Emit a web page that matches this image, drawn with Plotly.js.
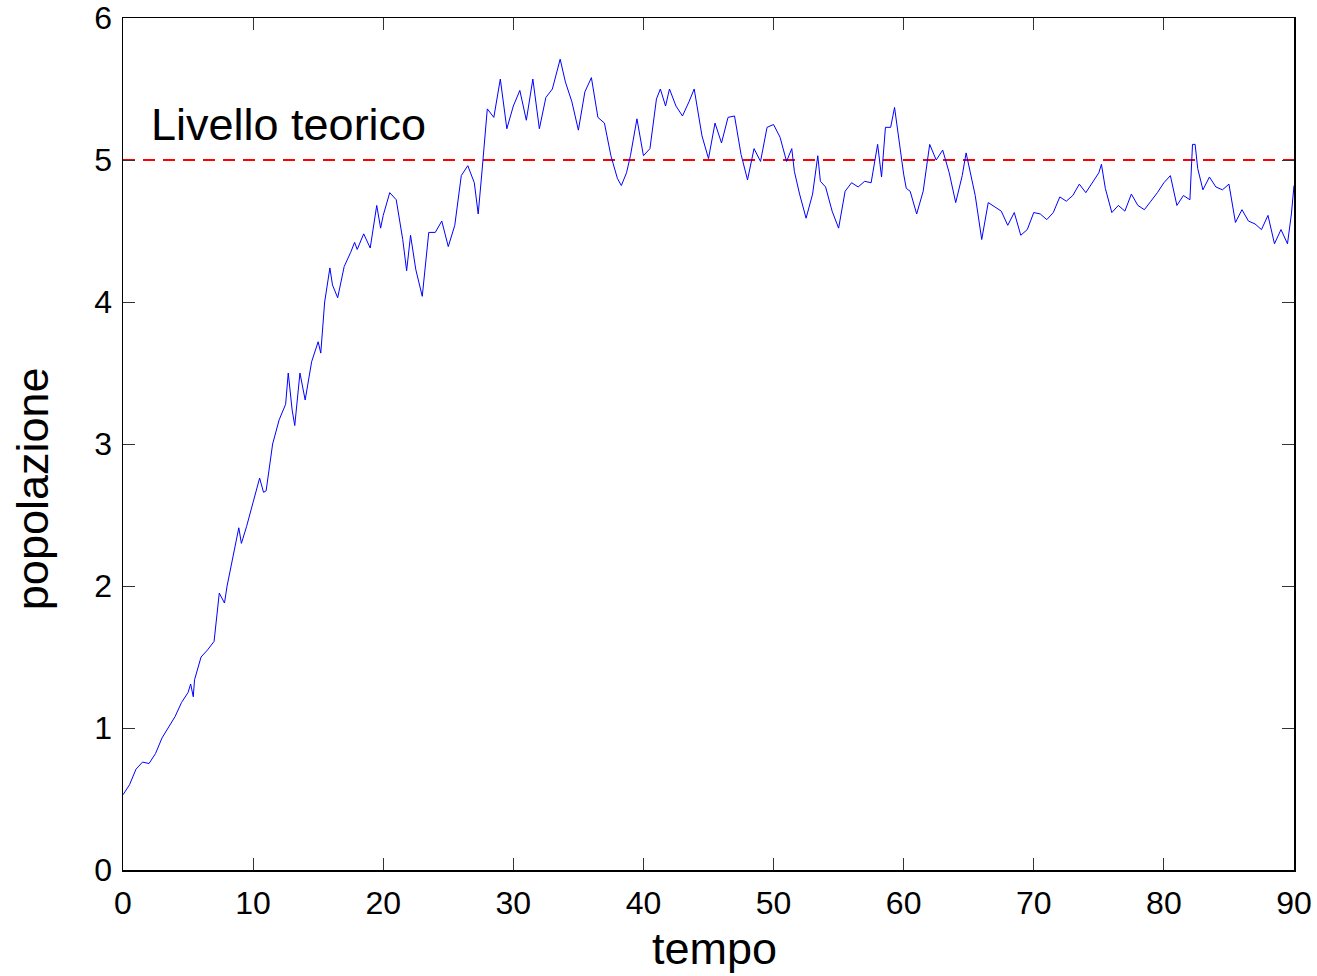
<!DOCTYPE html>
<html>
<head>
<meta charset="utf-8">
<script src="https://cdn.plot.ly/plotly-3.0.1.min.js"></script>
<style>html,body{margin:0;padding:0;background:#fff;}#chart{width:1317px;height:976px;}</style>
</head>
<body>
<div id="chart"></div>
<script>
const tempo = [0,0.5,1,1.5,2,2.5,3,3.5,4,4.5,5,5.2,5.4,5.5,6,6.5,7,7.4,7.8,8,8.5,8.9,9.1,9.5,10,10.5,10.8,11,11.5,12,12.5,12.7,13,13.2,13.6,14,14.5,15,15.2,15.5,15.9,16.1,16.5,17,17.5,17.8,18,18.5,19,19.5,19.8,20,20.5,21,21.5,21.8,22.1,22.5,23,23.5,24,24.5,25,25.5,26,26.5,27,27.3,27.6,28,28.5,29,29.5,30,30.5,31,31.5,32,32.5,33,33.6,34,34.5,35,35.5,36,36.5,37,37.5,38,38.3,38.7,39,39.5,40,40.5,41,41.3,41.7,42,42.5,43,43.5,43.9,44.5,45,45.5,46,46.5,47,47.5,48,48.5,49,49.5,50,50.5,51,51.4,51.6,52,52.5,53,53.4,53.6,54,54.5,55,55.5,56,56.5,57,57.5,58,58.3,58.6,59,59.3,60,60.2,60.5,61,61.5,62,62.5,63,63.5,64,64.5,64.8,65.5,66,66.5,67,67.5,68,68.5,69,69.5,70,70.5,71,71.5,72,72.5,73,73.5,74,74.5,75,75.2,75.5,76,76.5,77,77.5,78,78.5,79,79.5,80,80.5,81,81.5,82,82.2,82.4,82.6,83,83.5,84,84.5,85,85.5,86,86.5,87,87.5,88,88.5,89,89.5,89.8,90];
const popolazione = [0.53,0.60,0.71,0.76,0.75,0.82,0.93,1.01,1.08,1.18,1.25,1.31,1.22,1.34,1.50,1.55,1.61,1.95,1.88,2.00,2.24,2.41,2.30,2.42,2.59,2.76,2.66,2.67,3.00,3.17,3.28,3.50,3.24,3.13,3.50,3.31,3.58,3.72,3.64,4.00,4.24,4.12,4.03,4.25,4.35,4.42,4.37,4.48,4.38,4.68,4.52,4.61,4.77,4.72,4.44,4.22,4.47,4.23,4.04,4.49,4.49,4.57,4.39,4.54,4.89,4.96,4.84,4.62,4.93,5.36,5.30,5.57,5.22,5.38,5.49,5.28,5.57,5.22,5.44,5.50,5.71,5.55,5.41,5.21,5.48,5.58,5.30,5.26,5.03,4.87,4.82,4.91,5.03,5.29,5.03,5.08,5.43,5.50,5.38,5.50,5.38,5.31,5.41,5.50,5.17,5.01,5.26,5.12,5.30,5.31,5.04,4.86,5.08,4.99,5.23,5.25,5.16,4.99,5.08,4.92,4.76,4.59,4.76,5.03,4.85,4.81,4.64,4.52,4.78,4.84,4.81,4.85,4.84,5.11,4.88,5.23,5.23,5.37,4.90,4.80,4.78,4.62,4.78,5.11,5.00,5.07,4.91,4.70,4.89,5.05,4.75,4.44,4.70,4.67,4.64,4.54,4.63,4.47,4.51,4.63,4.62,4.58,4.63,4.74,4.71,4.75,4.83,4.77,4.84,4.91,4.97,4.80,4.63,4.68,4.64,4.76,4.68,4.65,4.71,4.77,4.84,4.89,4.68,4.75,4.72,5.11,5.11,4.94,4.79,4.88,4.81,4.79,4.83,4.56,4.65,4.57,4.55,4.51,4.61,4.41,4.51,4.41,4.62,4.82];
const livelloTeorico = 5;
const xRange = [0, 90];
const yRange = [0, 6];
const xTicks = [0,10,20,30,40,50,60,70,80,90];
const yTicks = [0,1,2,3,4,5,6];
const etichetta = 'Livello teorico';
const titoloX = 'tempo';
const titoloY = 'popolazione';

const font = 'Liberation Sans, Arial, Helvetica, sans-serif';

const traces = [
  {x: xRange, y: [livelloTeorico, livelloTeorico], mode: 'lines', line: {color: '#ff0000', width: 2, dash: '12px,8px'}, hoverinfo: 'skip'},
  {x: tempo, y: popolazione, mode: 'lines', line: {color: '#0000ff', width: 1}}
];

const axisCommon = {
  showline: true, linecolor: '#000', linewidth: 1.5, mirror: 'ticks',
  ticks: 'inside', ticklen: 12, tickcolor: '#333', tickwidth: 1,
  showgrid: false, zeroline: false,
  tickfont: {family: font, size: 32, color: '#000'}
};

const layout = {
  width: 1317, height: 976,
  margin: {l: 123, r: 23, t: 18, b: 106, pad: 0},
  paper_bgcolor: '#fff', plot_bgcolor: '#fff',
  showlegend: false,
  xaxis: Object.assign({}, axisCommon, {range: xRange, tickvals: xTicks, ticktext: xTicks.map(String), ticklabelstandoff: 4}),
  yaxis: Object.assign({}, axisCommon, {range: yRange, tickvals: yTicks, ticktext: yTicks.map(String), ticklabelstandoff: 3}),
  annotations: [
    {x: 2, y: 5.25, xref: 'x', yref: 'y', xanchor: 'left', yanchor: 'middle', showarrow: false,
      text: etichetta, font: {family: font, size: 45, color: '#000'}},
    {x: 0.5055, y: -0.0925, xref: 'paper', yref: 'paper', xanchor: 'center', yanchor: 'middle', showarrow: false,
      text: titoloX, font: {family: font, size: 45, color: '#000'}},
    {x: -0.0777, y: 0.447, xref: 'paper', yref: 'paper', xanchor: 'center', yanchor: 'middle', showarrow: false, textangle: -90,
      text: titoloY, font: {family: font, size: 45, color: '#000'}}
  ]
};

Plotly.newPlot('chart', traces, layout, {displayModeBar: false, staticPlot: true});
</script>
</body>
</html>
